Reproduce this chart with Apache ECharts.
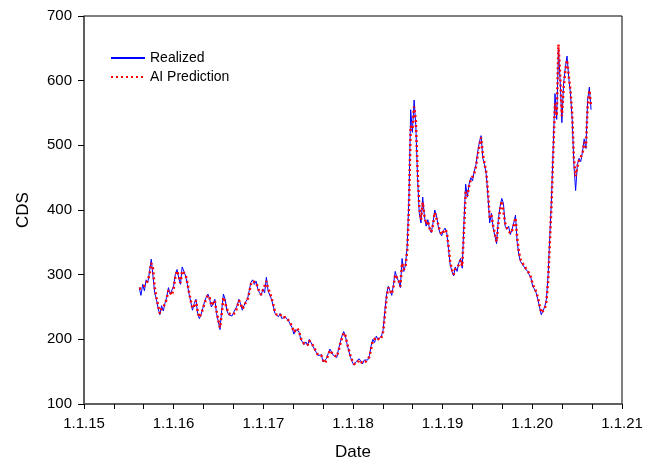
<!DOCTYPE html>
<html>
<head>
<meta charset="utf-8">
<script src="https://cdn.jsdelivr.net/npm/echarts@6/dist/echarts.min.js"></script>
<style>html,body{margin:0;padding:0;background:#fff}#c{width:651px;height:461px}</style>
</head>
<body>
<div id="c"></div>
<script>
// weekly observations starting 2015-08-14
const startDate = '2015-08-14';
const realized = [
280, 268, 285, 275, 292, 288, 305, 324, 298, 272,
262, 248, 238, 252, 244, 256, 265, 280, 270, 268,
282, 300, 308, 295, 285, 312, 305, 298, 285, 270,
258, 245, 255, 262, 240, 232, 238, 248, 258, 265,
270, 262, 250, 255, 262, 240, 228, 215, 245, 270,
262, 245, 238, 240, 236, 242, 240, 252, 262, 255,
245, 252, 258, 262, 275, 288, 292, 285, 290, 278,
272, 268, 278, 272, 296, 275, 272, 262, 252, 240,
238, 235, 240, 232, 230, 235, 232, 228, 225, 218,
208, 215, 218, 212, 200, 196, 192, 196, 190, 200,
198, 190, 185, 180, 175, 172, 176, 165, 162, 170,
178, 185, 180, 175, 178, 172, 185, 195, 205, 212,
205, 192, 182, 172, 165, 160, 165, 162, 170, 166,
162, 168, 165, 168, 175, 190, 200, 195, 205, 200,
198, 205, 215, 245, 270, 282, 275, 268, 285, 305,
295, 290, 280, 325, 305, 315, 345, 420, 555, 520,
570, 530, 450, 395, 380, 420, 390, 375, 385, 370,
365, 380, 400, 392, 375, 365, 360, 368, 372, 365,
340, 315, 305, 298, 312, 305, 318, 325, 310, 380,
440, 420, 440, 450, 445, 460, 470, 490, 505, 515,
480, 470, 455, 420, 380, 395, 372, 360, 348, 385,
405, 418, 410, 375, 370, 375, 362, 370, 380, 392,
350, 330, 320, 318, 312, 315, 305, 300, 295, 282,
278, 272, 262, 250, 238, 236, 250, 262, 300, 360,
420, 500, 580, 540, 648, 600, 535, 595, 620, 638,
605, 580, 540, 470, 430, 470, 480, 475, 490, 510,
495, 570, 590, 555
];
const prediction = [
278, 275, 280, 278, 286, 292, 300, 318, 310, 280,
265, 252, 240, 248, 246, 254, 263, 276, 272, 268,
278, 296, 306, 298, 287, 306, 306, 300, 288, 273,
260, 248, 252, 260, 244, 234, 236, 246, 256, 263,
268, 264, 252, 254, 260, 244, 230, 218, 238, 265,
264, 248, 240, 240, 238, 241, 241, 250, 260, 256,
247, 251, 257, 261, 272, 285, 290, 287, 288, 280,
273, 269, 276, 273, 290, 278, 273, 264, 254, 243,
238, 236, 239, 234, 231, 234, 233, 229, 226, 220,
211, 213, 217, 213, 202, 197, 193, 195, 191, 198,
198, 191, 186, 181, 176, 173, 175, 168, 163, 168,
176, 183, 181, 176, 177, 173, 182, 193, 202, 210,
206, 194, 184, 174, 167, 162, 164, 163, 168, 167,
163, 166, 166, 168, 173, 186, 198, 196, 203, 201,
199, 203, 212, 238, 265, 280, 277, 270, 282, 300,
297, 291, 282, 318, 308, 313, 338, 405, 530, 525,
560, 538, 462, 405, 385, 412, 392, 378, 383, 372,
366, 377, 396, 393, 378, 367, 362, 366, 370, 366,
345, 320, 308, 300, 309, 306, 315, 322, 313, 368,
428, 422, 437, 447, 446, 456, 467, 485, 500, 512,
486, 472, 458, 427, 388, 392, 376, 363, 351, 378,
400, 414, 411, 380, 372, 374, 364, 368, 377, 388,
357, 335, 323, 319, 313, 314, 307, 301, 296, 285,
280, 274, 265, 253, 241, 238, 247, 258, 290, 350,
410, 490, 565, 545, 656, 608, 545, 588, 615, 632,
608, 585, 548, 480, 452, 466, 477, 476, 487, 505,
497, 560, 585, 560
];
const xTickYears = [2015, 2016, 2017, 2018, 2019, 2020, 2021];
const yTicks = [100, 200, 300, 400, 500, 600, 700];

const t0 = new Date(startDate + 'T00:00:00').getTime();
const WEEK = 7 * 86400000;
const dates = realized.map((_, i) => t0 + i * WEEK);
const realData = realized.map((v, i) => [dates[i], v]);
const predData = prediction.map((v, i) => [dates[i], v]);

const FONT = 'Liberation Sans, Arial, sans-serif';
const chart = echarts.init(document.getElementById('c'), null, {renderer: 'canvas'});
chart.setOption({
  animation: false,
  backgroundColor: '#fff',
  grid: {left: 84, top: 16, right: 29, bottom: 57, show: true, borderColor: '#000', borderWidth: 1,
         containLabel: false, outerBoundsMode: 'none'},
  legend: {
    left: 105, top: 46, orient: 'vertical', itemGap: 5, itemWidth: 34, itemHeight: 12,
    textStyle: {fontFamily: FONT, fontSize: 14, color: '#000'},
    itemStyle: {opacity: 0},
    data: ['Realized', 'AI Prediction']
  },
  xAxis: {
    type: 'time',
    min: new Date(xTickYears[0] + '-01-01T00:00:00').getTime(),
    max: new Date(xTickYears[xTickYears.length - 1] + '-01-01T00:00:00').getTime(),
    name: 'Date', nameLocation: 'middle', nameGap: 40,
    nameTextStyle: {fontFamily: FONT, fontSize: 17, color: '#000'},
    axisLine: {lineStyle: {color: '#555', width: 1.5}},
    axisTick: {inside: false, length: 5, lineStyle: {color: '#000'}},
    minorTick: {show: true, splitNumber: 3, length: 5, lineStyle: {color: '#000'}},
    splitLine: {show: false},
    axisLabel: {
      fontFamily: FONT, fontSize: 15, color: '#000', margin: 12,
      showMaxLabel: true, showMinLabel: true, hideOverlap: false,
      formatter: function (v) {
        const d = new Date(v);
        if (d.getMonth() !== 0 || d.getDate() !== 1) return '';
        return '1.1.' + String(d.getFullYear()).slice(2);
      }
    }
  },
  yAxis: {
    type: 'value', min: yTicks[0], max: yTicks[yTicks.length - 1], interval: 100,
    name: 'CDS', nameLocation: 'middle', nameGap: 52, nameRotate: 90,
    nameTextStyle: {fontFamily: FONT, fontSize: 17, color: '#000'},
    axisLine: {show: true, lineStyle: {color: '#555', width: 1.5}},
    axisTick: {show: true, inside: false, length: 6, lineStyle: {color: '#000'}},
    splitLine: {show: false},
    axisLabel: {fontFamily: FONT, fontSize: 15, color: '#000', margin: 12}
  },
  series: [
    {
      name: 'Realized', type: 'line', data: realData, showSymbol: false,
      lineStyle: {color: '#0000ff', width: 1}, itemStyle: {color: '#0000ff'}
    },
    {
      name: 'AI Prediction', type: 'line', data: predData, showSymbol: false,
      lineStyle: {color: '#ff0000', width: 2.5, type: [2, 3]}, itemStyle: {color: '#ff0000'}
    }
  ]
});
</script>
</body>
</html>
